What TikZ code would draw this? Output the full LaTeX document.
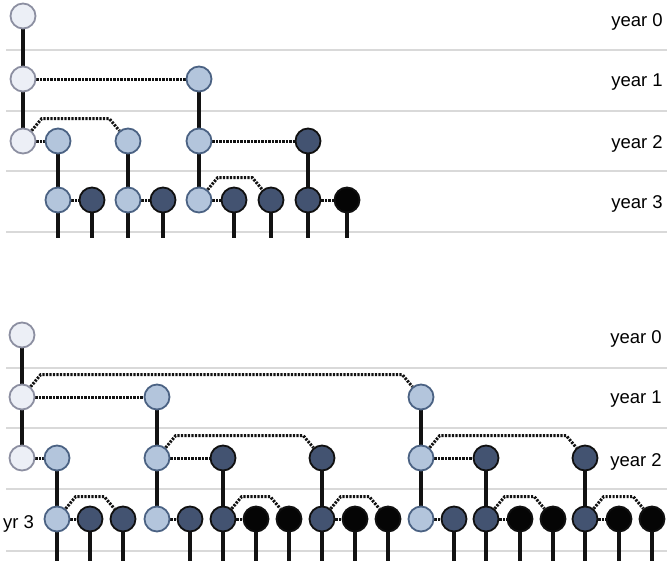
\documentclass[tikz,border=0pt]{standalone}
\usepackage{fontspec}
\usetikzlibrary{calc}
\newfontfamily\labfont{Liberation Sans}
\pgfdeclarelayer{bg}
\pgfsetlayers{bg,main}
\definecolor{vlfill}{HTML}{ECEFF6}
\definecolor{vlline}{HTML}{8C8FA1}
\definecolor{lbfill}{HTML}{B3C5DC}
\definecolor{lbline}{HTML}{4B6283}
\definecolor{dkfill}{HTML}{435371}
\definecolor{dkline}{HTML}{101010}
\definecolor{bkfill}{HTML}{050505}
\definecolor{gridc}{HTML}{D9D9D9}
\definecolor{conn}{HTML}{121212}
\tikzset{
  nd/.style={circle, minimum size=25pt, inner sep=0pt, line width=1.8pt},
  vl/.style={nd, fill=vlfill, draw=vlline},
  lb/.style={nd, fill=lbfill, draw=lbline},
  dk/.style={nd, fill=dkfill, draw=dkline},
  bk/.style={nd, fill=bkfill, draw=dkline},
  solidc/.style={draw=conn, line width=3.2pt},
  dotc/.style={draw=conn, line width=3pt, dash pattern=on 2.2pt off 1.3pt},
  gridl/.style={draw=gridc, line width=2pt},
  lab/.style={font=\labfont\fontsize{18.5}{21}\selectfont, inner sep=0pt, text=black},
}
\begin{document}
\begin{tikzpicture}[x=1pt,y=-1pt]
\useasboundingbox (0,0) rectangle (669,560);
% ---------- TOP DIAGRAM ----------
\node[vl] (T0) at (23,16) {};
\node[vl] (T1a) at (23,79) {};
\node[lb] (T1b) at (199,79) {};
\node[vl] (T2a) at (23,141) {};
\node[lb] (T2b) at (58,141) {};
\node[lb] (T2c) at (128,141) {};
\node[lb] (T2d) at (199,141) {};
\node[dk] (T2e) at (308,141) {};
\node[lb] (T3a) at (58,200) {};
\node[dk] (T3b) at (92,200) {};
\node[lb] (T3c) at (128,200) {};
\node[dk] (T3d) at (163,200) {};
\node[lb] (T3e) at (199,200) {};
\node[dk] (T3f) at (234,200) {};
\node[dk] (T3g) at (271,200) {};
\node[dk] (T3h) at (308,200) {};
\node[bk] (T3i) at (347,200) {};
\coordinate (Tbot) at (0,238);
\node[lab, anchor=base east] (TL0) at (663,26) {year 0};
\node[lab, anchor=base east] (TL1) at (663,86) {year 1};
\node[lab, anchor=base east] (TL2) at (663,148) {year 2};
\node[lab, anchor=base east] (TL3) at (663,208) {year 3};
% ---------- BOTTOM DIAGRAM ----------
\node[vl] (B0) at (22,335) {};
\node[vl] (B1a) at (22,397) {};
\node[lb] (B1b) at (157,397) {};
\node[lb] (B1c) at (421,397) {};
\node[vl] (B2a) at (22,458) {};
\node[lb] (B2b) at (57,458) {};
\node[lb] (B2c) at (157,458) {};
\node[dk] (B2d) at (223,458) {};
\node[dk] (B2e) at (322,458) {};
\node[lb] (B2f) at (421,458) {};
\node[dk] (B2g) at (486,458) {};
\node[dk] (B2h) at (585,458) {};
\node[lb] (B3a) at (57,519) {};
\node[dk] (B3b) at (90,519) {};
\node[dk] (B3c) at (123,519) {};
\node[lb] (B3d) at (157,519) {};
\node[dk] (B3e) at (190,519) {};
\node[dk] (B3f) at (223,519) {};
\node[bk] (B3g) at (256,519) {};
\node[bk] (B3h) at (289,519) {};
\node[dk] (B3i) at (322,519) {};
\node[bk] (B3j) at (355,519) {};
\node[bk] (B3k) at (388,519) {};
\node[lb] (B3l) at (421,519) {};
\node[dk] (B3m) at (454,519) {};
\node[dk] (B3n) at (486,519) {};
\node[bk] (B3o) at (520,519) {};
\node[bk] (B3p) at (553,519) {};
\node[dk] (B3q) at (585,519) {};
\node[bk] (B3r) at (619,519) {};
\node[bk] (B3s) at (652,519) {};
\coordinate (Bbot) at (0,562);
\node[lab, anchor=base east] (BL0) at (662,343) {year 0};
\node[lab, anchor=base east] (BL1) at (662,403) {year 1};
\node[lab, anchor=base east] (BL2) at (662,466) {year 2};
\node[lab, anchor=base west] (BL3) at (3,528) {yr 3};
\begin{pgfonlayer}{bg}
% grid lines
\foreach \yy in {50,110.5,171,232} {\draw[gridl] (6,\yy) -- (667,\yy);}
\foreach \yy in {367.5,427.5,489,550.5} {\draw[gridl] (6,\yy) -- (667,\yy);}
% top solid
\draw[solidc] (T0) -- (T1a) -- (T2a);
\draw[solidc] (T1b) -- (T2d) -- (T3e);
\draw[solidc] (T2b) -- (T3a);
\draw[solidc] (T2c) -- (T3c);
\draw[solidc] (T2e) -- (T3h);
\foreach \n in {T3a,T3b,T3c,T3d,T3f,T3g,T3h,T3i} {\draw[solidc] (\n) -- (\n |- Tbot);}
% top dotted
\draw[dotc] (T1a) -- (T1b);
\draw[dotc] (T2a) -- (T2b);
\draw[dotc] (T2a.50) -- ++(10,-12) -- ($(T2c.130)+(-10,-12)$) -- (T2c.130);
\draw[dotc] (T2d) -- (T2e);
\draw[dotc] (T3a) -- (T3b);
\draw[dotc] (T3c) -- (T3d);
\draw[dotc] (T3e) -- (T3f);
\draw[dotc] (T3e.50) -- ++(10,-12) -- ($(T3g.130)+(-10,-12)$) -- (T3g.130);
\draw[dotc] (T3h) -- (T3i);
% bottom solid
\draw[solidc] (B0) -- (B1a) -- (B2a);
\draw[solidc] (B1b) -- (B2c) -- (B3d);
\draw[solidc] (B1c) -- (B2f) -- (B3l);
\draw[solidc] (B2b) -- (B3a);
\draw[solidc] (B2d) -- (B3f);
\draw[solidc] (B2e) -- (B3i);
\draw[solidc] (B2g) -- (B3n);
\draw[solidc] (B2h) -- (B3q);
\foreach \n in {B3a,B3b,B3c,B3e,B3f,B3g,B3h,B3i,B3j,B3k,B3m,B3n,B3o,B3p,B3q,B3r,B3s} {\draw[solidc] (\n) -- (\n |- Bbot);}
% bottom dotted
\draw[dotc] (B1a) -- (B1b);
\draw[dotc] (B1a.50) -- ++(10,-12) -- ($(B1c.130)+(-10,-12)$) -- (B1c.130);
\draw[dotc] (B2a) -- (B2b);
\draw[dotc] (B2c) -- (B2d);
\draw[dotc] (B2c.50) -- ++(10,-12) -- ($(B2e.130)+(-10,-12)$) -- (B2e.130);
\draw[dotc] (B2f) -- (B2g);
\draw[dotc] (B2f.50) -- ++(10,-12) -- ($(B2h.130)+(-10,-12)$) -- (B2h.130);
\draw[dotc] (B3a) -- (B3b);
\draw[dotc] (B3a.50) -- ++(10,-12) -- ($(B3c.130)+(-10,-12)$) -- (B3c.130);
\draw[dotc] (B3d) -- (B3e);
\draw[dotc] (B3f) -- (B3g);
\draw[dotc] (B3f.50) -- ++(10,-12) -- ($(B3h.130)+(-10,-12)$) -- (B3h.130);
\draw[dotc] (B3i) -- (B3j);
\draw[dotc] (B3i.50) -- ++(10,-12) -- ($(B3k.130)+(-10,-12)$) -- (B3k.130);
\draw[dotc] (B3l) -- (B3m);
\draw[dotc] (B3n) -- (B3o);
\draw[dotc] (B3n.50) -- ++(10,-12) -- ($(B3p.130)+(-10,-12)$) -- (B3p.130);
\draw[dotc] (B3q) -- (B3r);
\draw[dotc] (B3q.50) -- ++(10,-12) -- ($(B3s.130)+(-10,-12)$) -- (B3s.130);
\end{pgfonlayer}
\end{tikzpicture}
\end{document}
